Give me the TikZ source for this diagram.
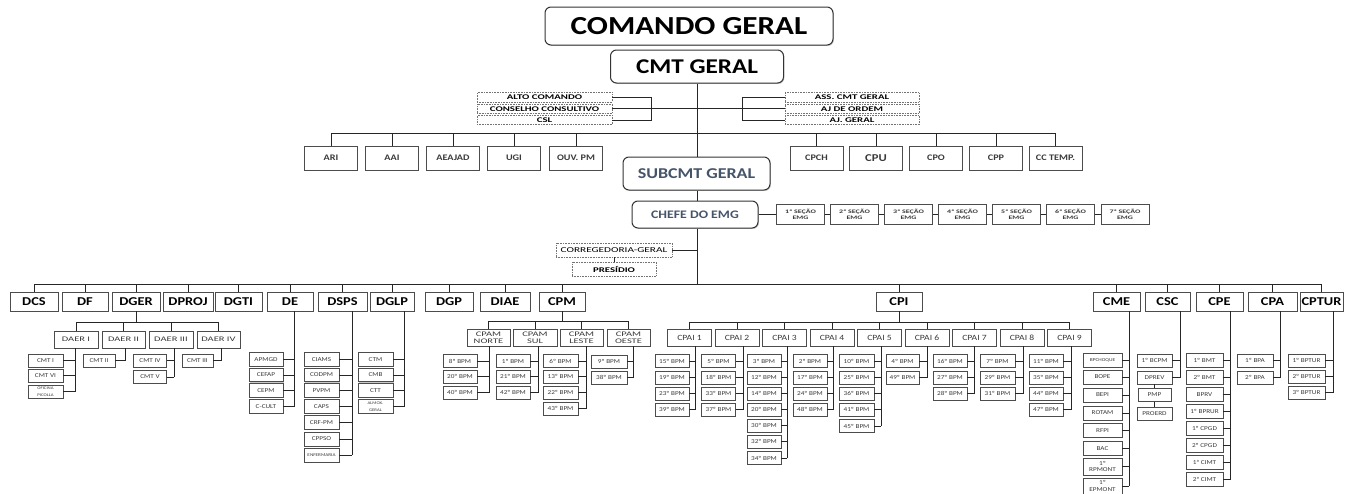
\documentclass[tikz,border=0pt]{standalone}
\usepackage{fontspec}
\setmainfont{Carlito}[FakeStretch=1.2]
\newfontfamily\wf{Carlito}[FakeStretch=1.5]
\usetikzlibrary{shadows}
\definecolor{slate}{HTML}{44546A}
\definecolor{txt}{HTML}{3A3A3A}
\newcommand\tinyf{\fontsize{4}{4.3}\selectfont}
\newcommand\kidsgroup[6]{%
  \coordinate (#5T) at (#2,0);
  \foreach \tx/\yy/\hh [count=\i] in {#6} {%
    \node[kid, minimum width=#4pt, minimum height=\hh pt] (#5\i) at (#3,\yy) {\tx};
    \draw[ln] (#5\i.east) -- (#5\i.east -| #5T);
    \xdef\lastk{#5\i}%
  }%
  \draw[ln] (#1.south -| #5T) -- (\lastk.east -| #5T);
}
\begin{document}
\begin{tikzpicture}[x=1pt,y=-1pt,
  ln/.style={draw=black!85, line width=0.9pt},
  shd/.style={drop shadow={shadow xshift=0.9pt, shadow yshift=-0.9pt, opacity=0.35, fill=black!60}},
  bx/.style={draw=black!70, line width=0.8pt, fill=white, inner sep=0pt, align=center, shd},
  rb/.style={bx, rounded corners=6pt, draw=black!80, line width=1pt},
  db/.style={draw=black!55, densely dotted, line width=0.6pt, fill=white, inner sep=0pt, align=center, font=\wf\bfseries\fontsize{7.2}{8}\selectfont},
  top/.style={bx, minimum height=24pt, minimum width=53pt, font=\bfseries\fontsize{8.5}{9}\selectfont, text=txt},
  sec/.style={bx, line width=0.6pt, minimum width=48pt, minimum height=20pt, font=\wf\bfseries\fontsize{5.3}{6}\selectfont, text=txt},
  lv2/.style={bx, minimum height=19pt, font=\bfseries\fontsize{12}{12}\selectfont},
  mid/.style={bx, minimum height=17pt, text=txt},
  kid/.style={bx, line width=0.7pt, font=\fontsize{6}{6.5}\selectfont, text=txt}
]
\fill[white] (0,0) rectangle (1345,493);
\useasboundingbox (0,0) rectangle (1345,493);

% ---------- top ----------
\coordinate (tk) at (697,0);
\coordinate (b1) at (0,133);
\coordinate (b2) at (0,284);
\node[rb, minimum width=288pt, minimum height=38pt, font=\bfseries\fontsize{26}{28}\selectfont] (cg) at (689,26) {COMANDO GERAL};
\node[rb, minimum width=173pt, minimum height=33pt, font=\bfseries\fontsize{21}{23}\selectfont] (cmt) at (697,66.5) {CMT GERAL};
\node[rb, minimum width=147pt, minimum height=33pt, text=slate, font=\bfseries\fontsize{15}{16}\selectfont] (subcmt) at (696.5,173.5) {SUBCMT GERAL};
\node[rb, minimum width=126pt, minimum height=27pt, text=slate, font=\bfseries\fontsize{11.5}{12}\selectfont] (chefe) at (695,214.5) {CHEFE DO EMG};

\draw[ln] (cmt.south -| tk) -- (subcmt.north -| tk);
\draw[ln] (subcmt.south -| tk) -- (chefe.north -| tk);
\draw[ln] (chefe.south -| tk) -- (tk |- b2);

\node[db, minimum width=135pt, minimum height=9.5pt] (ac) at (544.5,97.2) {ALTO COMANDO};
\node[db, minimum width=135pt, minimum height=9.5pt] (cc) at (544.5,108.7) {CONSELHO CONSULTIVO};
\node[db, minimum width=135pt, minimum height=9.5pt] (csl) at (544.5,120) {CSL};
\node[db, minimum width=134pt, minimum height=9.5pt] (ass) at (852,97.2) {ASS. CMT GERAL};
\node[db, minimum width=134pt, minimum height=9.5pt] (ajo) at (852,108.7) {AJ DE ORDEM};
\node[db, minimum width=134pt, minimum height=9.5pt] (ajg) at (852,120) {AJ. GERAL};
\draw[ln] (ac.east) -- ++(39,0) |- (csl.east);
\draw[ln] (cc.east) -- (cc.east -| tk);
\draw[ln] (ass.west) -- ++(-42,0) |- (ajg.west);
\draw[ln] (ajo.west) -- (ajo.west -| tk);

% second row
\foreach \nm/\tx/\xx in {ari/ARI/331, aai/AAI/392, aea/AEAJAD/453, ugi/UGI/514, ouv/OUV. PM/576, cpch/CPCH/816.5, cpo/CPO/936, cpp/CPP/996, cct/CC TEMP./1055.5}
  {\node[top] (\nm) at (\xx,158) {\tx};
   \draw[ln] (\nm.north) -- (\nm.north |- b1);}
\node[top, font=\bfseries\fontsize{10.5}{11}\selectfont] (cpu) at (876,158) {CPU};
\draw[ln] (cpu.north) -- (cpu.north |- b1);
\draw[ln] (ari.north |- b1) -- (cct.north |- b1);

% sections
\foreach \nn/\xx in {1/800.5, 2/854.5, 3/908.5, 4/962.5, 5/1016.5, 6/1070.5, 7/1125}
  {\node[sec] (s\nn) at (\xx,214.5) {\nn ª SEÇÃO\\EMG};}
\foreach \a/\b in {chefe/s1, s1/s2, s2/s3, s3/s4, s4/s5, s5/s6, s6/s7}
  {\draw[ln] (\a.east) -- (\b.west);}

% corregedoria
\node[db, font=\wf\fontsize{7.5}{8}\selectfont, minimum width=116pt, minimum height=14pt] (corr) at (614,250) {CORREGEDORIA-GERAL};
\node[db, minimum width=84pt, minimum height=14pt] (pres) at (614,269) {PRESÍDIO};
\draw[ln] (corr.east) -- (corr.east -| tk);
\draw[ln] (corr.south) -- (pres.north);

% ---------- level 2 ----------
\foreach \nm/\tx/\xx/\ww in {dcs/DCS/34/48, df/DF/85/46, dger/DGER/136/48, dproj/DPROJ/188/50, dgti/DGTI/238.5/47, de/DE/290/46, dsps/DSPS/342.5/49, dglp/DGLP/392/44, dgp/DGP/449/48, diae/DIAE/505/50, cpm/CPM/562/46, cpi/CPI/899/46, cme/CME/1116.5/47, csc/CSC/1167.5/45, cpe/CPE/1219.5/47, cpa/CPA/1272.5/49, cptur/CPTUR/1321.5/43}
  {\node[lv2, minimum width=\ww pt] (\nm) at (\xx,301.5) {\tx};
   \draw[ln] (\nm.north) -- (\nm.north |- b2);}
\draw[ln] (dcs.north |- b2) -- (cptur.north |- b2);

% ---------- DGER ----------
\coordinate (b3) at (0,322);
\foreach \nm/\tx/\xx/\ww in {daer1/DAER I/76/44, daer2/DAER II/123.5/43, daer3/DAER III/171/44, daer4/DAER IV/218.5/43}
  {\node[mid, minimum width=\ww pt, font=\wf\fontsize{7}{7.5}\selectfont] (\nm) at (\xx,339.5) {\tx};
   \draw[ln] (\nm.north) -- (\nm.north |- b3);}
\draw[ln] (daer1.north |- b3) -- (daer4.north |- b3);
\draw[ln] (dger.south) -- (dger.south |- b3);
\kidsgroup{daer1}{75}{45.5}{35}{dai}{CMT I/360.5/13, CMT VI/375.5/13, {\tinyf OFICINA\\\tinyf PICOLLA}/391.5/13}
\kidsgroup{daer2}{125}{99}{32}{daii}{CMT II/360.5/13}
\kidsgroup{daer3}{174}{150}{33}{daiii}{CMT IV/360.5/13, CMT V/377/13}
\kidsgroup{daer4}{221}{197.5}{31}{daiv}{CMT III/360.5/13}

% ---------- DE, DSPS, DGLP ----------
\kidsgroup{de}{294}{266}{34}{dek}{APMGD/359.5/13.5, CEFAP/375/13.5, CEPM/390.5/13.5, C-CULT/406.5/13.5}
\kidsgroup{dsps}{352}{321.5}{35}{dsk}{CIAMS/359.3/13.5, CODPM/375/13.5, PVPM/390.5/13.5, CAPS/406.5/13.5, CRF-PM/422.5/13.5, CPPSO/439/14, {\fontsize{4.3}{4.5}\selectfont ENFERMARIA}/455.3/14}
\kidsgroup{dglp}{404}{375.5}{35}{dgk}{CTM/359.3/13.5, CMB/375/13.5, CTT/390.5/13.5, {\tinyf ALMOX.\\\tinyf GERAL}/406.5/13.5}

% ---------- CPM ----------
\coordinate (b4) at (0,321);
\foreach \nm/\tx/\xx/\ww in {cpam1/NORTE/488.5/43, cpam2/SUL/535/44, cpam3/LESTE/581.5/43, cpam4/OESTE/628.5/43}
  {\node[mid, minimum width=\ww pt, font=\wf\fontsize{7}{7.2}\selectfont] (\nm) at (\xx,337.5) {CPAM\\\tx};
   \draw[ln] (\nm.north) -- (\nm.north |- b4);}
\draw[ln] (cpam1.north |- b4) -- (cpam4.north |- b4);
\draw[ln] (cpm.south) -- (cpm.south |- b4);
\kidsgroup{cpam1}{489}{460}{34}{pn}{8º BPM/361/13, 20º BPM/376.5/13, 40º BPM/392.5/13}
\kidsgroup{cpam2}{538}{513}{34}{ps}{1º BPM/361/13, 21º BPM/376.5/13, 42º BPM/392.5/13}
\kidsgroup{cpam3}{586}{560.5}{35}{pl}{6º BPM/361/13, 13º BPM/376.5/13, 22º BPM/392.5/13, 43º BPM/408.5/13}
\kidsgroup{cpam4}{633}{609}{36}{po}{9º BPM/361.5/13, 38º BPM/377.5/13}

% ---------- CPI ----------
\coordinate (b5) at (0,322);
\foreach \nn in {1,...,9}
  {\node[mid, minimum width=44pt, font=\fontsize{8}{8}\selectfont] (cpai\nn) at ({689.5+47.5*(\nn-1)},337.5) {CPAI \nn};
   \draw[ln] (cpai\nn.north) -- (cpai\nn.north |- b5);}
\draw[ln] (cpai1.north |- b5) -- (cpai9.north |- b5);
\draw[ln] (cpi.south) -- (cpi.south |- b5);
\kidsgroup{cpai1}{695}{672}{34}{qa}{15º BPM/361/13, 19º BPM/377.5/13, 23º BPM/393.5/13, 39º BPM/409.5/13}
\kidsgroup{cpai2}{743}{718.5}{34}{qb}{5º BPM/361/13, 18º BPM/377.5/13, 33º BPM/393.5/13, 37º BPM/409.5/13}
\kidsgroup{cpai3}{787}{764}{34}{qc}{3º BPM/361/13, 12º BPM/377.5/13, 14º BPM/393.5/13, 20º BPM/409.5/13, 30º BPM/425.5/13, 32º BPM/441.5/13, 34º BPM/458/13}
\kidsgroup{cpai4}{833}{810}{34}{qd}{2º BPM/361/13, 17º BPM/377.5/13, 24º BPM/393.5/13, 48º BPM/409.5/13}
\kidsgroup{cpai5}{881}{856.5}{35}{qe}{10º BPM/361/13, 25º BPM/377.5/13, 36º BPM/393.5/13, 41º BPM/409.5/13, 45º BPM/426/13}
\kidsgroup{cpai6}{927}{902.5}{33}{qf}{4º BPM/361/13, 49º BPM/377.5/13}
\kidsgroup{cpai7}{974}{950}{34}{qg}{16º BPM/361/13, 27º BPM/377.5/13, 28º BPM/393.5/13}
\kidsgroup{cpai8}{1023}{997.5}{35}{qh}{7º BPM/361/13, 29º BPM/377.5/13, 31º BPM/393.5/13}
\kidsgroup{cpai9}{1071}{1046}{34}{qi}{11º BPM/361/13, 35º BPM/377.5/13, 44º BPM/393.5/13, 47º BPM/409.5/13}

% ---------- CME, CSC, CPE, CPA, CPTUR ----------
\kidsgroup{cme}{1129}{1102.5}{39}{me}{{\fontsize{4.5}{5}\selectfont BPCHOQUE}/360.3/14, BOPE/377/14, BEPI/395/14, ROTAM/413/14, RFPI/430.3/14, BAC/448.3/14, {1º\\RPMONT}/466.7/16.5, {1º\\EPMONT}/486/16}
\kidsgroup{csc}{1180}{1154.5}{35}{sc}{1º BCPM/360.5/13, DPREV/377.5/13}
\node[kid, minimum width=33pt, minimum height=13pt] (pmp) at (1154.5,395) {PMP};
\node[kid, minimum width=35pt, minimum height=13pt] (proerd) at (1154.5,413.5) {PROERD};
\draw[ln] (sc2.south) -- (pmp.north);
\draw[ln] (pmp.south) -- (proerd.north);
\kidsgroup{cpe}{1230}{1204.5}{37}{pe}{1º BMT/360.5/13.5, 2º BMT/377.5/13.5, BPRV/394.5/13.5, 1º BPRUR/411.5/13.5, 1º CPGD/428.5/13.5, 2º CPGD/445.5/13.5, 1ª CIMT/462.5/13.5, 2ª CIMT/479.5/13.5}
\kidsgroup{cpa}{1280}{1255}{36}{pa}{1º BPA/360.5/13, 2º BPA/377.5/13}
\kidsgroup{cptur}{1333}{1306.5}{37}{pt}{1º BPTUR/360.5/13, 2º BPTUR/376.5/13, 3º BPTUR/392.5/13}
\end{tikzpicture}
\end{document}
